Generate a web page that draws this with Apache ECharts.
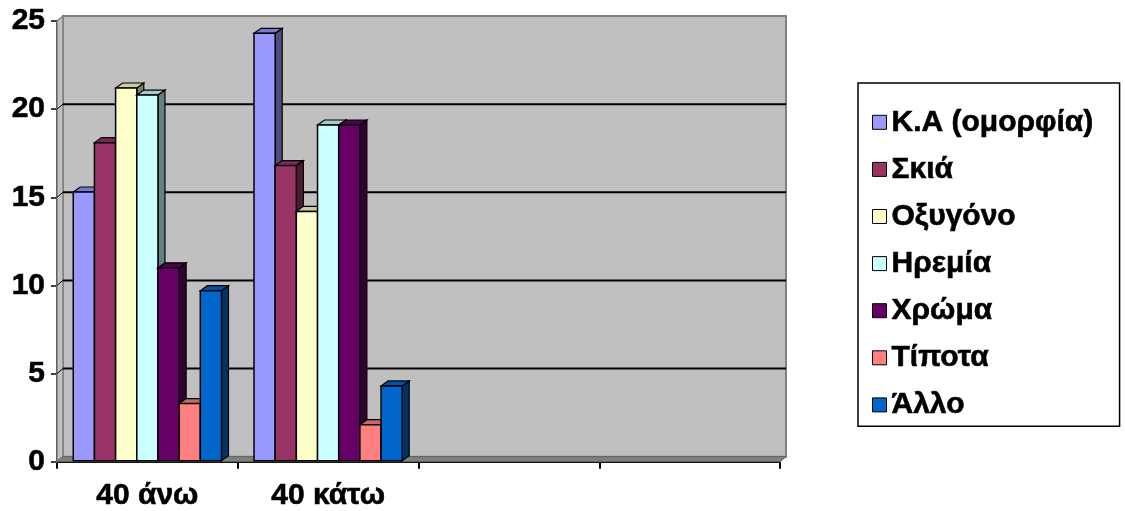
<!DOCTYPE html>
<html>
<head>
<meta charset="utf-8">
<script src="https://cdn.jsdelivr.net/npm/echarts@6/dist/echarts.min.js"></script>
<style>
html,body{margin:0;padding:0;background:#fff;}
#chart{width:1125px;height:511px;}
</style>
</head>
<body>
<div id="chart"></div>
<script>
// ---- data ----
const categories = ['40 άνω', '40 κάτω', '', ''];
const seriesNames = ['Κ.Α (ομορφία)', 'Σκιά', 'Οξυγόνο', 'Ηρεμία', 'Χρώμα', 'Τίποτα', 'Άλλο'];
const kaValues      = [15.3, 24.3];
const skiaValues    = [18.1, 16.8];
const oxygonoValues = [21.2, 14.2];
const iremiaValues  = [20.8, 19.1];
const xromaValues   = [11.0, 19.1];
const tipotaValues  = [3.3, 2.1];
const alloValues    = [9.7, 4.3];
const yTicks = [0, 5, 10, 15, 20, 25];

const seriesValues = [kaValues, skiaValues, oxygonoValues, iremiaValues, xromaValues, tipotaValues, alloValues];
const colors = ['#9999FF', '#993366', '#FFFFCC', '#CCFFFF', '#660066', '#FF8080', '#0066CC'];

const FONT = "'Liberation Sans', Arial, sans-serif";
const BDX = 7, BDY = -5;   // bar depth offset
const WDX = 6, WDY = -5;   // wall depth offset

function shade(hex, f) {
  const n = parseInt(hex.slice(1), 16);
  const r = Math.round(((n >> 16) & 255) * f), g = Math.round(((n >> 8) & 255) * f), b = Math.round((n & 255) * f);
  return 'rgb(' + r + ',' + g + ',' + b + ')';
}

const chart = echarts.init(document.getElementById('chart'), null, {renderer: 'canvas'});

const barSeries = seriesNames.map(function (name, i) {
  const col = colors[i];
  const topCol = shade(col, 0.8);
  const sideCol = shade(col, 0.5);
  return {
    name: name,
    type: 'custom',
    z: 5,
    itemStyle: {color: col},
    data: seriesValues[i].map(function (v, k) { return [k, v]; }),
    renderItem: function (params, api) {
      const cat = api.value(0), val = api.value(1);
      const band = api.size([1, 0])[0];
      const group = band * 0.82;
      const bw = group / 7;
      const base = api.coord([cat, 0]);
      const top = api.coord([cat, val]);
      const x = base[0] - group / 2 + i * bw;
      const y0 = base[1] - 1, y1 = top[1];
      return {
        type: 'group',
        children: [
          {type: 'polygon', shape: {points: [[x + bw, y1], [x + bw + BDX, y1 + BDY], [x + bw + BDX, y0 + BDY], [x + bw, y0]]},
           style: {fill: sideCol, stroke: '#000', lineWidth: 1.2}},
          {type: 'polygon', shape: {points: [[x, y1], [x + BDX, y1 + BDY], [x + bw + BDX, y1 + BDY], [x + bw, y1]]},
           style: {fill: topCol, stroke: '#000', lineWidth: 1.2}},
          {type: 'rect', shape: {x: x, y: y1, width: bw, height: y0 - y1},
           style: {fill: col, stroke: '#000', lineWidth: 1.5}}
        ]
      };
    }
  };
});

const frameSeries = {
  name: 'frame',
  type: 'custom',
  z: 1,
  silent: true,
  data: [[0, 0]],
  renderItem: function (params, api) {
    const cs = params.coordSys;
    const L = cs.x, R = cs.x + cs.width, T = cs.y, B = cs.y + cs.height;
    return {
      type: 'group',
      children: [
        {type: 'rect', shape: {x: L + WDX, y: T + WDY, width: cs.width, height: cs.height},
         style: {fill: '#C0C0C0', stroke: '#808080', lineWidth: 2}},
        {type: 'polygon', shape: {points: [[L, B], [L, T], [L + WDX, T + WDY], [L + WDX, B + WDY]]},
         style: {fill: '#C0C0C0', stroke: '#808080', lineWidth: 1.5}},
        {type: 'polygon', shape: {points: [[L, B], [R, B], [R + WDX, B + WDY], [L + WDX, B + WDY]]},
         style: {fill: '#808080', stroke: '#606060', lineWidth: 1}}
      ]
    };
  }
};

const gridLineSeries = {
  name: 'gridlines',
  type: 'custom',
  z: 2,
  silent: true,
  data: yTicks.filter(function (v) { return v > 0 && v < 25; }).map(function (v) { return [0, v]; }),
  renderItem: function (params, api) {
    const cs = params.coordSys;
    const p = api.coord([0, api.value(1)]);
    const y = p[1];
    return {
      type: 'group',
      children: [
        {type: 'line', shape: {x1: cs.x + WDX, y1: y + WDY, x2: cs.x + cs.width + WDX, y2: y + WDY},
         style: {stroke: '#000', lineWidth: 2}},
        {type: 'line', shape: {x1: cs.x, y1: y, x2: cs.x + WDX, y2: y + WDY},
         style: {stroke: '#000', lineWidth: 1}}
      ]
    };
  }
};

const labelStyle = {
  fontFamily: FONT, fontWeight: 'bold', fontSize: 30, color: '#000',
  textBorderColor: '#000', textBorderWidth: 0.6
};

const option = {
  backgroundColor: '#ffffff',
  animation: false,
  textStyle: {fontFamily: FONT},
  grid: {left: 57, right: 345, top: 21, bottom: 48, containLabel: false},
  legend: {
    orient: 'vertical',
    left: 858,
    top: 83,
    data: seriesNames,
    icon: 'rect',
    itemWidth: 14,
    itemHeight: 14,
    itemGap: 16.5,
    padding: [24, 26, 6, 14],
    borderColor: '#000',
    borderWidth: 1.5,
    itemStyle: {borderColor: '#000', borderWidth: 1},
    textStyle: Object.assign({}, labelStyle, {lineHeight: 30}),
    selectedMode: false
  },
  xAxis: {
    type: 'category',
    data: categories,
    axisLine: {show: true, lineStyle: {color: '#000', width: 2}},
    axisTick: {show: true, length: 7, lineStyle: {color: '#000', width: 2}},
    axisLabel: Object.assign({}, labelStyle, {margin: 19}),
    splitLine: {show: false}
  },
  yAxis: {
    type: 'value',
    min: 0,
    max: 25,
    interval: 5,
    axisLine: {show: true, lineStyle: {color: '#000', width: 2}},
    axisTick: {show: true, length: 6, lineStyle: {color: '#000', width: 1.5}},
    axisLabel: Object.assign({}, labelStyle, {margin: 12}),
    splitLine: {show: false}
  },
  series: [frameSeries, gridLineSeries].concat(barSeries)
};

chart.setOption(option);
</script>
</body>
</html>
